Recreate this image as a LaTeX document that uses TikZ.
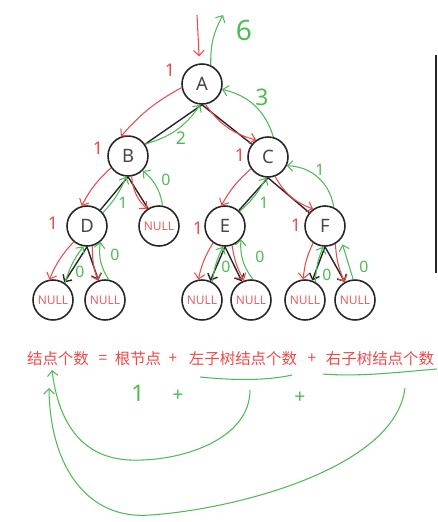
\documentclass[tikz,border=0pt]{standalone}
\usepackage{fontspec}
\setmainfont{Noto Sans}
\newfontfamily\cjk{Noto Sans CJK SC}
\usetikzlibrary{arrows.meta, positioning}

\definecolor{callred}{RGB}{236,74,74}
\definecolor{retgreen}{RGB}{78,186,86}
\definecolor{nullred}{RGB}{222,100,100}
\definecolor{edgegray}{RGB}{38,38,38}

\tikzset{
  treenode/.style={circle, draw=edgegray, line width=0.9pt, minimum size=0.8cm, inner sep=0pt,
    font=\fontsize{10.5}{12}\selectfont, text=edgegray!85},
  nullnode/.style={treenode, font=\fontsize{6.8}{8}\selectfont, text=nullred},
  edge/.style={draw=edgegray, line width=0.8pt},
  leafedge/.style={edge, -{Straight Barb[length=3pt,width=6pt]}},
  call/.style={draw=callred, line width=0.6pt, -{Straight Barb[length=3pt,width=6pt]}},
  ret/.style={draw=retgreen, line width=0.6pt, -{Straight Barb[length=3pt,width=6pt]}},
  redmark/.style={text=callred, font=\fontsize{10}{11}\selectfont, inner sep=0pt},
  greenmark/.style={text=retgreen, font=\fontsize{9}{10}\selectfont, inner sep=0pt},
  formula/.style={text=callred, font=\cjk\fontsize{8.8}{10}\selectfont, inner sep=0pt}
}

\begin{document}
\begin{tikzpicture}[x=0.02cm, y=-0.02cm]
\useasboundingbox (0,0) rectangle (438,522);
% Arbol
\node[treenode] (A) at (202,84) {A};
\node[treenode] (B) at (128,156) {B};
\node[treenode] (C) at (268,157) {C};
\node[treenode] (D) at (87,226) {D};
\node[nullnode] (N) at (159,226) {NULL};
\node[treenode] (E) at (225,226) {E};
\node[treenode] (F) at (325,226) {F};
\foreach \name/\x in {DL/53, DR/105, EL/202, ER/251, FL/305, FR/355}
  \node[nullnode] (\name) at (\x,300) {NULL};
\foreach \p/\c in {A/B, A/C, B/D, B/N, C/E, C/F}
  \draw[edge] (\p.south) -- (\c);
\foreach \p/\c in {D/DL, D/DR, E/EL, E/ER, F/FL, F/FR}
  \draw[leafedge] (\p.south) -- (\c);
% Barra lateral
\coordinate (bartop) at (436,55);
\coordinate (barbot) at (436,273);
\draw[edgegray, line width=1pt] (bartop) -- (barbot);
% Llamadas (rojo)
\coordinate (enter) at (197,15);
\draw[call, shorten >=4pt] (enter) -- (A.97);
\draw[call] (A.190) to[bend right=10] (B.110);
\draw[call] (A.-80) to[bend right=20] (C.125);
\draw[call] (B.215) to[bend right=10] (D.105);
\draw[call] (B.-80) to[bend right=20] (N.125);
\draw[call] (C.215) to[bend right=10] (E.100);
\draw[call] (C.-70) to[bend right=20] (F.125);
\draw[call] (D.230) to[bend right=10] (DL.100);
\draw[call] (D.-75) to[bend right=10] (DR.110);
\draw[call] (E.235) to[bend right=10] (EL.100);
\draw[call] (E.-70) to[bend right=10] (ER.110);
\draw[call] (F.235) to[bend right=10] (FL.95);
\draw[call] (F.-60) to[bend right=10] (FR.120);
\foreach \x/\y in {170/70, 98/148, 240/155, 53/223, 198/228, 296/225}
  \node[redmark] at (\x,\y) {1};
% Retornos (verde)
\coordinate (exit) at (223,15);
\draw[ret] (A.65) to[bend left=15] (exit);
\draw[ret] (B.35) to[bend right=20] (A.-95);
\draw[ret] (C.75) to[bend right=30] (A.-15);
\draw[ret] (D.40) to[bend right=10] (B.-95);
\draw[ret] (N.80) to[bend right=20] (B.-45);
\draw[ret] (E.45) to[bend right=10] (C.-95);
\draw[ret] (F.65) to[bend right=40] (C.-25);
\draw[ret] (DL.55) to[bend left=10] (D.-100);
\draw[ret] (DR.80) to[bend left=20] (D.-50);
\draw[ret] (EL.60) to[bend left=10] (E.-95);
\draw[ret] (ER.85) to[bend left=20] (E.-40);
\draw[ret] (FL.60) to[bend left=10] (F.-95);
\draw[ret, shorten >=3pt] (FR.95) to (F.-40);
\node[greenmark, font=\fontsize{16}{17}\selectfont] at (244,30) {6};
\node[greenmark, font=\fontsize{13}{14}\selectfont] at (262,97) {3};
\node[greenmark, font=\fontsize{10}{11}\selectfont] at (181,138) {2};
\foreach \x/\y in {123/203, 264/203, 320/170}
  \node[greenmark] at (\x,\y) {1};
\foreach \x/\y in {166/180, 80/272, 115/255, 226/267, 260/257, 327/275, 364/267}
  \node[greenmark] at (\x,\y) {0};
% Formula
\node[formula] (total) at (58,359) {结点个数};
\node[formula] (eq) at (103,359) {=};
\node[formula] (root) at (138,359) {根节点};
\node[formula] (plusa) at (173,359) {+};
\node[formula] (left) at (243,359) {左子树结点个数};
\node[formula] (plusb) at (312,359) {+};
\node[formula] (right) at (380,359) {右子树结点个数};
\draw[retgreen, line width=0.6pt] (200,377) .. controls (240,381) and (270,380) .. (292,375);
\draw[retgreen, line width=0.6pt] (323,374) .. controls (360,377) and (400,372) .. (437,369);
\node[greenmark, font=\fontsize{13}{14}\selectfont] at (138,393) {1};
\node[greenmark, font=\fontsize{11}{12}\selectfont] at (178,396) {+};
\node[greenmark, font=\fontsize{11}{12}\selectfont] at (300,398) {+};
\coordinate (lsum) at (250,390);
\coordinate (rsum) at (405,388);
\coordinate (lhead) at (52,370);
\coordinate (rhead) at (49,388);
\draw[ret] (lsum) .. controls (250,440) and (180,462) .. (130,460)
  .. controls (80,458) and (58,420) .. (lhead);
\draw[ret] (rsum) .. controls (395,470) and (230,510) .. (150,515)
  .. controls (90,520) and (50,470) .. (rhead);
\end{tikzpicture}
\end{document}
